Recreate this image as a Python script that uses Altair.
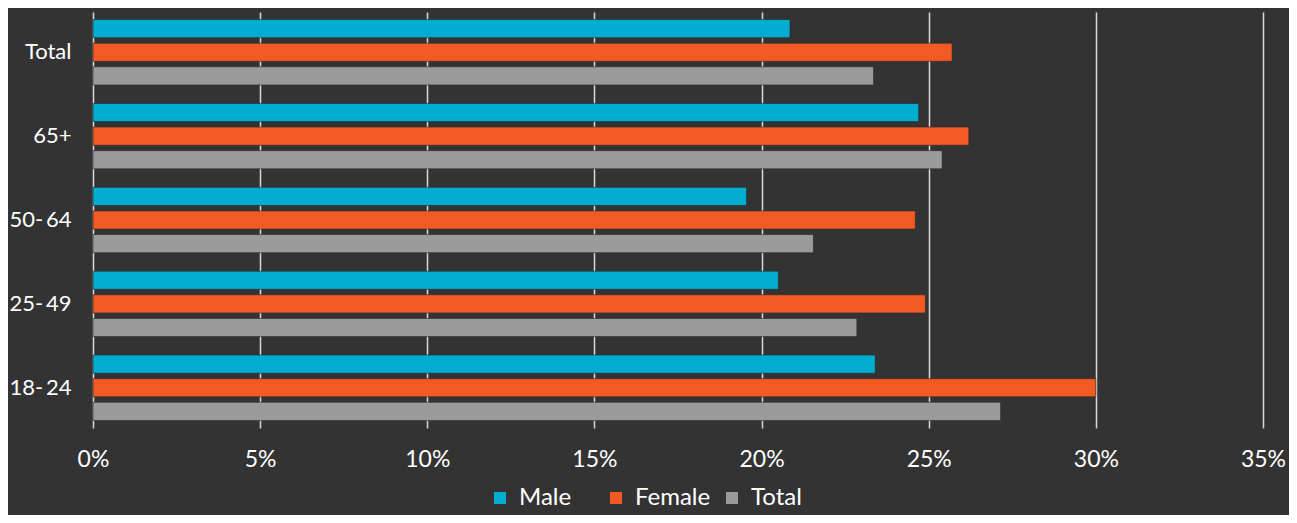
import altair as alt
import pandas as pd

groups = ["Total", "65+", "50-\u200964", "25-\u200949", "18-\u200924"]
series = ["Male", "Female", "Total"]
male = [20.85, 24.7, 19.55, 20.5, 23.4]
female = [25.7, 26.2, 24.6, 24.9, 30.0]
total = [23.35, 25.4, 21.55, 22.85, 27.15]
colors = ["#00ADD0", "#F15A22", "#9B9B9B"]
x_ticks = [0, 5, 10, 15, 20, 25, 30, 35]

rows = []
for i, g in enumerate(groups):
    for s, vals in zip(series, [male, female, total]):
        rows.append({"group": g, "series": s, "value": vals[i] / 100})
df = pd.DataFrame(rows)

font = "Lato"

chart = alt.Chart(df).mark_bar(
    stroke="#2a2a2a", strokeWidth=1, strokeOpacity=0.6
).encode(
    x=alt.X("value:Q",
            scale=alt.Scale(domain=[0, 0.35], nice=False),
            axis=alt.Axis(values=[t / 100 for t in x_ticks], format=".0%",
                          title=None, grid=True, gridColor="#D9D9D9", gridWidth=1.5,
                          domain=False, ticks=False, labelPadding=20, labelFlush=False,
                          labelFontSize=23, labelColor="#FFFFFF", labelFont=font)),
    y=alt.Y("group:N", sort=groups,
            scale=alt.Scale(paddingInner=0.22, paddingOuter=0.09),
            axis=alt.Axis(title=None, domain=False, ticks=False, grid=False,
                          labelPadding=22, labelFontSize=22, labelColor="#FFFFFF",
                          labelFont=font)),
    yOffset=alt.YOffset("series:N", sort=series,
                        scale=alt.Scale(paddingInner=0.23, paddingOuter=0)),
    color=alt.Color("series:N", sort=series,
                    scale=alt.Scale(domain=series, range=colors),
                    legend=alt.Legend(title=None, orient="none", direction="horizontal",
                                      legendX=395, legendY=474,
                                      columns=3, gridAlign="all", columnPadding=9,
                                      symbolType="square", symbolSize=144,
                                      symbolStrokeWidth=0, labelOffset=7,
                                      labelFontSize=24,
                                      labelColor="#FFFFFF", labelFont=font)),
).properties(
    width=1170, height=416,
    background="#333333",
    padding={"left": 85, "top": 4, "right": 26, "bottom": 87},
    autosize=alt.AutoSizeParams(type="none"),
).configure_view(stroke=None)

chart.save("out.html", embed_options={"renderer": "svg", "actions": False})
